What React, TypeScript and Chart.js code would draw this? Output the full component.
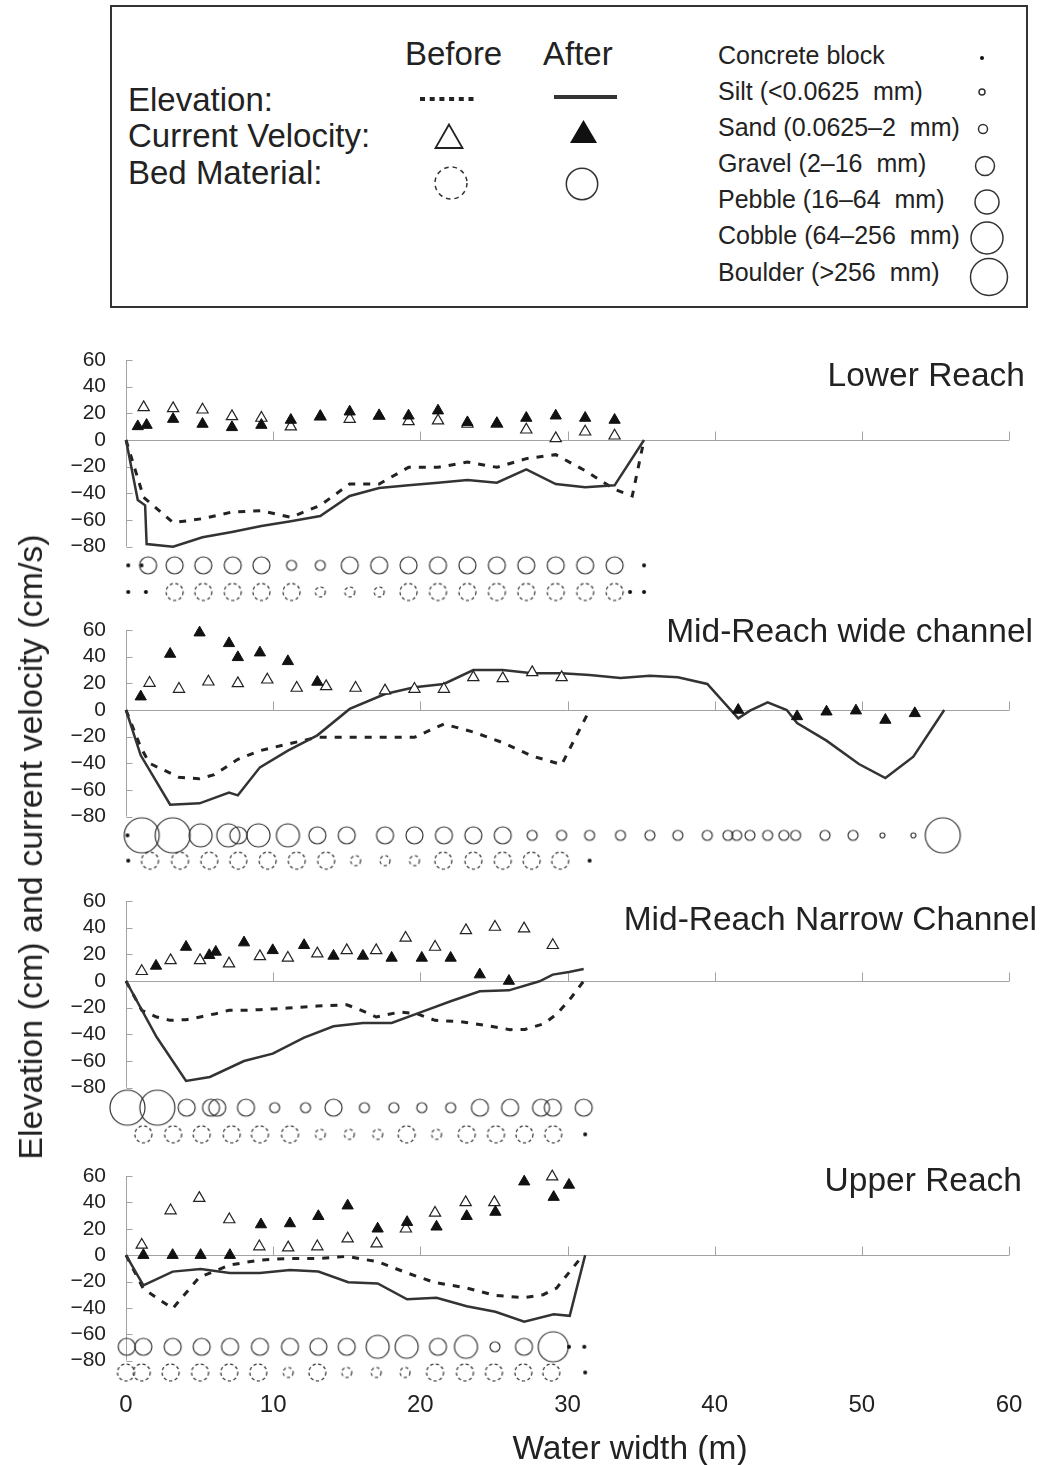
import React, { useEffect, useRef } from 'react';
import { Chart, registerables } from 'chart.js';

Chart.register(...registerables);

// ---------------- axes ----------------
const X_TICKS = [0, 10, 20, 30, 40, 50, 60];
const Y_TICKS = [-80, -60, -40, -20, 0, 20, 40, 60];

// ---------------- Lower Reach ----------------
const lowerVelBeforeX = [1.2, 3.2, 5.2, 7.2, 9.2, 11.2, 13.2, 15.2, 17.2, 19.2, 21.2, 23.2, 25.2, 27.2, 29.2, 31.2, 33.2];
const lowerVelBefore = [24.5, 23.7, 22.7, 17.7, 16.5, 10, 17.5, 15.7, 18, 14, 14.5, 12, 12, 7.7, 1.2, 6.2, 3.2];
const lowerVelAfterX = [0.8, 1.4, 3.2, 5.2, 7.2, 9.2, 11.2, 13.2, 15.2, 17.2, 19.2, 21.2, 23.2, 25.2, 27.2, 29.2, 31.2, 33.2];
const lowerVelAfter = [10.2, 11.2, 15.7, 12, 9.5, 11.2, 15, 17.7, 21.2, 18.2, 18.2, 22, 13.2, 12.5, 16.5, 18.2, 16.5, 15];
const lowerElevBeforeX = [0, 1.2, 3.2, 5.2, 7.2, 9.2, 11.2, 13.2, 15.2, 17.2, 19.2, 21.2, 23.2, 25.2, 27.2, 29.2, 31.2, 33.2, 34.4, 35.2];
const lowerElevBefore = [0, -43, -62, -59, -54, -53, -58, -49, -33, -33, -20.5, -20.5, -16.5, -20.5, -14, -11, -23, -37, -42, 0];
const lowerElevAfterX = [0, 0.8, 1.3, 1.4, 3.2, 5.2, 7.2, 9.2, 11.2, 13.2, 15.2, 17.2, 19.2, 21.2, 23.2, 25.2, 27.2, 29.2, 31.2, 33.2, 35.2];
const lowerElevAfter = [0, -45, -49, -78, -80, -73, -69, -64.5, -61, -57, -42, -36, -34, -32, -30, -32, -22, -33, -35.5, -34, 0];
const lowerBedAfterX = [0.15, 1.05, 1.5, 3.3, 5.25, 7.25, 9.2, 11.25, 13.2, 15.2, 17.2, 19.2, 21.2, 23.2, 25.2, 27.2, 29.2, 31.2, 33.2, 35.2];
const lowerBedAfter = ['K', 'K', 'G', 'G', 'G', 'G', 'G', 'S', 'S', 'G', 'G', 'G', 'G', 'G', 'G', 'G', 'G', 'G', 'G', 'K'];
const lowerBedBeforeX = [0.15, 1.35, 3.3, 5.25, 7.25, 9.2, 11.25, 13.2, 15.2, 17.2, 19.2, 21.2, 23.2, 25.2, 27.2, 29.2, 31.2, 33.2, 34.25, 35.2];
const lowerBedBefore = ['K', 'K', 'G', 'G', 'G', 'G', 'G', 'S', 'S', 'S', 'G', 'G', 'G', 'G', 'G', 'G', 'G', 'G', 'K', 'K'];

// ---------------- Mid-Reach wide channel ----------------
const wideVelBeforeX = [1.6, 3.6, 5.6, 7.6, 9.6, 11.6, 13.6, 15.6, 17.6, 19.6, 21.6, 23.6, 25.6, 27.6, 29.6];
const wideVelBefore = [20.2, 15.7, 21.2, 20, 22.7, 16.5, 17.7, 16.5, 14.5, 15.7, 15.7, 24.5, 23.7, 28.2, 24.5];
const wideVelAfterX = [1.0, 3.0, 5.0, 7.0, 7.6, 9.1, 11.0, 13.0, 41.6, 45.6, 47.6, 49.6, 51.6, 53.6];
const wideVelAfter = [10, 42, 58, 50, 39.5, 43, 36.5, 21, 0, -4.8, -1.3, -0.5, -7.5, -2.5];
const wideElevBeforeX = [0, 1.0, 1.6, 3.6, 5.0, 6.0, 7.6, 9.1, 11.0, 13.0, 15.6, 17.6, 19.6, 21.6, 23.6, 25.6, 27.6, 29.6, 31.5];
const wideElevBefore = [0, -28, -40, -50.5, -51.5, -48.5, -37, -30.5, -25.5, -20.5, -20.5, -20.5, -20.5, -10.5, -16.5, -24.5, -34.5, -41, 0];
const wideElevAfterX = [0, 1.0, 3.0, 5.0, 7.0, 7.6, 9.1, 11.0, 13.0, 15.2, 17.6, 19.6, 21.6, 23.6, 25.6, 27.6, 29.6, 31.5, 33.6, 35.6, 37.5, 39.5, 41.6, 42.4, 43.6, 44.9, 45.6, 47.6, 49.8, 51.6, 53.5, 55.6];
const wideElevAfter = [0, -34, -71, -70, -62, -64, -43, -30.5, -19, 0.8, 12, 17, 19.5, 30, 30, 27.5, 27.5, 26.2, 24, 25.7, 24.5, 19.5, -6.3, -0.5, 5.7, 0, -9.8, -23, -40.5, -51, -35, 0];
const wideBedAfterX = [0.1, 1.07, 3.17, 5.07, 6.95, 7.63, 9.0, 11.0, 13.0, 15.0, 17.6, 19.6, 21.6, 23.6, 25.6, 27.6, 29.6, 31.5, 33.6, 35.6, 37.5, 39.5, 40.9, 41.5, 42.4, 43.6, 44.7, 45.5, 47.5, 49.4, 51.4, 53.5, 55.5];
const wideBedAfter = ['K', 'B', 'B', 'P', 'P', 'G', 'P', 'P', 'G', 'G', 'G', 'G', 'G', 'G', 'G', 'S', 'S', 'S', 'S', 'S', 'S', 'S', 'S', 'S', 'S', 'S', 'S', 'S', 'S', 'S', 'L', 'L', 'B'];
const wideBedBeforeX = [0.15, 1.63, 3.67, 5.66, 7.63, 9.62, 11.6, 13.6, 15.6, 17.6, 19.6, 21.56, 23.6, 25.6, 27.56, 29.5, 31.5];
const wideBedBefore = ['K', 'G', 'G', 'G', 'G', 'G', 'G', 'G', 'S', 'S', 'S', 'G', 'G', 'G', 'G', 'G', 'K'];

// ---------------- Mid-Reach Narrow Channel ----------------
const narrowVelBeforeX = [1.07, 3.03, 5.03, 7.0, 9.1, 11.0, 13.0, 15.0, 17.0, 19.0, 21.0, 23.1, 25.07, 27.05, 29.0];
const narrowVelBefore = [7.3, 15.5, 15.5, 13, 18.5, 17.3, 20.5, 23, 23, 32.3, 25.5, 38, 40.5, 39.3, 26.8];
const narrowVelAfterX = [2.04, 4.08, 5.66, 6.1, 8.02, 9.97, 12.1, 14.1, 16.1, 18.05, 20.1, 22.06, 24.04, 26.02];
const narrowVelAfter = [11.3, 25.5, 19.3, 21.8, 28.8, 23, 26.8, 18.8, 18.8, 17.3, 17.3, 17.3, 4.8, 0];
const narrowElevBeforeX = [0, 1.07, 2.08, 3.0, 4.08, 5.03, 6.1, 7.0, 8.02, 9.1, 11.0, 13.0, 15.0, 16.0, 17.0, 18.6, 19.75, 21.0, 22.7, 24.5, 26.1, 27.1, 28.4, 29.3, 30.2, 31.1];
const narrowElevBefore = [0, -22, -27, -29.5, -29, -27, -24.5, -22, -22, -21.5, -20.3, -18.8, -17.8, -22, -27, -23.3, -24.5, -29.5, -30.5, -33.3, -36.5, -36.3, -32, -24.5, -13.2, 0];
const narrowElevAfterX = [0, 2.08, 4.08, 5.7, 8.02, 9.97, 12.1, 14.1, 16.1, 18.05, 20.1, 22.06, 24.04, 26.02, 28.1, 29.0, 30.1, 31.1];
const narrowElevAfter = [0, -42, -75, -72, -60, -54.5, -42.5, -34, -31.5, -31.5, -23.2, -15.2, -7.7, -7, -0.2, 4.8, 6.8, 9];
const narrowBedAfterX = [0.1, 2.13, 4.12, 5.78, 6.2, 8.15, 10.1, 12.2, 14.1, 16.2, 18.2, 20.1, 22.06, 24.05, 26.1, 28.2, 29.0, 31.1];
const narrowBedAfter = ['B', 'B', 'G', 'G', 'G', 'G', 'S', 'S', 'G', 'S', 'S', 'S', 'S', 'G', 'G', 'G', 'G', 'G'];
const narrowBedBeforeX = [1.18, 3.2, 5.14, 7.18, 9.1, 11.14, 13.2, 15.17, 17.1, 19.07, 21.1, 23.15, 25.14, 27.07, 29.03, 31.2];
const narrowBedBefore = ['G', 'G', 'G', 'G', 'G', 'G', 'S', 'S', 'S', 'G', 'S', 'G', 'G', 'G', 'G', 'K'];

// ---------------- Upper Reach ----------------
const upperVelBeforeX = [1.07, 3.03, 4.98, 7.02, 9.06, 11.02, 13.0, 15.06, 17.03, 19.02, 21.0, 23.08, 25.03, 28.96];
const upperVelBefore = [7.7, 33.8, 43.2, 27, 6.5, 5.7, 6.5, 12.5, 8.7, 20, 32, 40, 40, 59.5];
const upperVelAfterX = [1.18, 3.17, 5.07, 7.06, 9.17, 11.14, 13.07, 15.06, 17.1, 19.1, 21.1, 23.15, 25.1, 27.06, 29.06, 30.1];
const upperVelAfter = [0, 0, 0, 0, 23.2, 24, 29.5, 37.5, 20, 25, 21.5, 29.5, 32.7, 55.7, 44, 53.2];
const upperElevBeforeX = [0, 1.18, 3.17, 4.98, 7.06, 9.1, 11.14, 13.07, 15.0, 17.1, 19.1, 20.9, 23.15, 25.1, 27.06, 28.35, 29.26, 30.15, 31.06];
const upperElevBefore = [0, -25.5, -40.5, -16.8, -7.5, -3.7, -2.5, -2.5, -1, -5, -13.5, -20.5, -25, -30.5, -32.3, -30, -25, -12.5, 0];
const upperElevAfterX = [0, 1.18, 3.17, 5.07, 7.06, 9.1, 11.14, 13.07, 15.1, 17.1, 19.1, 21.1, 23.15, 25.1, 27.06, 29.06, 30.15, 31.2];
const upperElevAfter = [0, -23, -12.5, -10.5, -13.5, -13.5, -11.3, -12.5, -20.5, -21.5, -33.5, -32.3, -38.8, -43, -50.5, -44.8, -46, 0];
const upperBedAfterX = [0.05, 1.18, 3.17, 5.14, 7.07, 9.1, 11.14, 13.07, 15.0, 17.1, 19.07, 21.2, 23.1, 25.07, 27.04, 29.03, 30.1, 31.14];
const upperBedAfter = ['G', 'G', 'G', 'G', 'G', 'G', 'G', 'G', 'G', 'P', 'P', 'G', 'P', 'S', 'G', 'C', 'K', 'K'];
const upperBedBeforeX = [0.0, 1.07, 3.03, 5.03, 7.02, 8.99, 11.02, 13.0, 15.0, 17.0, 18.96, 21.0, 23.03, 25.0, 27.0, 28.9, 31.2];
const upperBedBefore = ['G', 'G', 'G', 'G', 'G', 'G', 'S', 'G', 'S', 'S', 'S', 'G', 'G', 'G', 'G', 'G', 'K'];

// ---------------- legend texts ----------------
const BED_CLASSES = ['Concrete block', 'Silt (<0.0625  mm)', 'Sand (0.0625–2  mm)', 'Gravel (2–16  mm)', 'Pebble (16–64  mm)', 'Cobble (64–256  mm)', 'Boulder (>256  mm)'];
const BED_CODES = ['K', 'L', 'S', 'G', 'P', 'C', 'B'];

// ---------------- styles ----------------
const FONT = '"Liberation Sans", Arial, sans-serif';
const AXIS_COLOR = '#a3a3a3';
const INK = '#222';
const BED_RADIUS: Record<string, number> = { K: 2, L: 2.5, S: 5, G: 8.5, P: 11.5, C: 15, B: 17.5 };
const LEGEND_RADIUS: Record<string, number> = { K: 2, L: 3, S: 4.5, G: 9.5, P: 12, C: 16, B: 18.5 };
const LEGEND_SYMBOL_POS = [
  [982, 58], [982, 92], [983, 129], [985, 166], [987, 202], [987, 238], [989, 277],
];
const LEGEND_TEXT_BASELINE = [64, 100, 136, 172, 208, 244, 281];

// areaTop/areaHeight: chart area inside each canvas (y from 60 down to yMin)
const PANEL_LAYOUT = [
  { top: 350, height: 255, areaTop: 10, areaHeight: 240, yMin: -120, afterRow: -94, beforeRow: -114, showX: false },
  { top: 620, height: 255, areaTop: 10, areaHeight: 240, yMin: -120, afterRow: -94, beforeRow: -113, showX: false },
  { top: 891, height: 255, areaTop: 10, areaHeight: 240, yMin: -120, afterRow: -95, beforeRow: -115, showX: false },
  { top: 1166, height: 299, areaTop: 10, areaHeight: 211, yMin: -100, afterRow: -69.5, beforeRow: -89, showX: true },
];

const PANEL_TITLES = [
  { text: 'Lower Reach', right: 1025, baseline: 386 },
  { text: 'Mid-Reach wide channel', right: 1033, baseline: 642 },
  { text: 'Mid-Reach Narrow Channel', right: 1037, baseline: 930 },
  { text: 'Upper Reach', right: 1022, baseline: 1191 },
];

type Panel = {
  velBeforeX: number[]; velBefore: number[]; velAfterX: number[]; velAfter: number[];
  elevBeforeX: number[]; elevBefore: number[]; elevAfterX: number[]; elevAfter: number[];
  bedAfterX: number[]; bedAfter: string[]; bedBeforeX: number[]; bedBefore: string[];
};

const PANELS: Panel[] = [
  { velBeforeX: lowerVelBeforeX, velBefore: lowerVelBefore, velAfterX: lowerVelAfterX, velAfter: lowerVelAfter,
    elevBeforeX: lowerElevBeforeX, elevBefore: lowerElevBefore, elevAfterX: lowerElevAfterX, elevAfter: lowerElevAfter,
    bedAfterX: lowerBedAfterX, bedAfter: lowerBedAfter, bedBeforeX: lowerBedBeforeX, bedBefore: lowerBedBefore },
  { velBeforeX: wideVelBeforeX, velBefore: wideVelBefore, velAfterX: wideVelAfterX, velAfter: wideVelAfter,
    elevBeforeX: wideElevBeforeX, elevBefore: wideElevBefore, elevAfterX: wideElevAfterX, elevAfter: wideElevAfter,
    bedAfterX: wideBedAfterX, bedAfter: wideBedAfter, bedBeforeX: wideBedBeforeX, bedBefore: wideBedBefore },
  { velBeforeX: narrowVelBeforeX, velBefore: narrowVelBefore, velAfterX: narrowVelAfterX, velAfter: narrowVelAfter,
    elevBeforeX: narrowElevBeforeX, elevBefore: narrowElevBefore, elevAfterX: narrowElevAfterX, elevAfter: narrowElevAfter,
    bedAfterX: narrowBedAfterX, bedAfter: narrowBedAfter, bedBeforeX: narrowBedBeforeX, bedBefore: narrowBedBefore },
  { velBeforeX: upperVelBeforeX, velBefore: upperVelBefore, velAfterX: upperVelAfterX, velAfter: upperVelAfter,
    elevBeforeX: upperElevBeforeX, elevBefore: upperElevBefore, elevAfterX: upperElevAfterX, elevAfter: upperElevAfter,
    bedAfterX: upperBedAfterX, bedAfter: upperBedAfter, bedBeforeX: upperBedBeforeX, bedBefore: upperBedBefore },
];

// ---------------- helpers ----------------
const symbolCache = new Map<string, HTMLCanvasElement>();
function bedSymbol(kind: string, dashed: boolean): HTMLCanvasElement {
  const key = kind + (dashed ? 'd' : 's');
  const hit = symbolCache.get(key);
  if (hit) return hit;
  const r = BED_RADIUS[kind];
  const size = Math.ceil(r * 2 + 4);
  const c = document.createElement('canvas');
  c.width = size;
  c.height = size;
  const g = c.getContext('2d')!;
  g.translate(size / 2, size / 2);
  g.beginPath();
  g.arc(0, 0, r, 0, Math.PI * 2);
  if (kind === 'K') {
    g.fillStyle = '#111';
    g.fill();
  } else {
    g.strokeStyle = '#333';
    g.lineWidth = 1.2;
    if (dashed) g.setLineDash([3.2, 2.6]);
    g.stroke();
  }
  symbolCache.set(key, c);
  return c;
}

const pts = (xs: number[], ys: number[]) => xs.map((x, i) => ({ x, y: ys[i] }));
const row = (xs: number[], level: number) => xs.map((x) => ({ x, y: level }));

const axisDecor = {
  id: 'axisDecor',
  beforeDatasetsDraw(chart: any) {
    const { ctx, chartArea, scales } = chart;
    const xs = scales.x;
    const ys = scales.y;
    const left = Math.round(xs.getPixelForValue(0)) + 0.5;
    const yTop = ys.getPixelForValue(Y_TICKS[Y_TICKS.length - 1]);
    const yBot = ys.getPixelForValue(Y_TICKS[0]);
    const y0 = Math.round(ys.getPixelForValue(0)) + 0.5;
    ctx.save();
    ctx.strokeStyle = AXIS_COLOR;
    ctx.lineWidth = 1;
    ctx.beginPath();
    ctx.moveTo(left, yTop);
    ctx.lineTo(left, yBot);
    for (const v of Y_TICKS) {
      const py = Math.round(ys.getPixelForValue(v)) + 0.5;
      ctx.moveTo(left, py);
      ctx.lineTo(left + 6, py);
    }
    ctx.moveTo(left, y0);
    ctx.lineTo(chartArea.right, y0);
    for (const v of X_TICKS) {
      if (v === 0) continue;
      const px = Math.round(xs.getPixelForValue(v)) + 0.5;
      ctx.moveTo(px, y0);
      ctx.lineTo(px, y0 - 9);
    }
    ctx.stroke();
    ctx.restore();
  },
};

function buildConfig(p: Panel, L: typeof PANEL_LAYOUT[number]): any {
  const bottomSpace = L.height - L.areaTop - L.areaHeight;
  return {
    type: 'scatter',
    data: {
      datasets: [
        {
          label: 'Current velocity (after)', data: pts(p.velAfterX, p.velAfter), showLine: false,
          pointStyle: 'triangle', pointRadius: 6.5, pointBackgroundColor: '#111', pointBorderColor: '#111',
          pointBorderWidth: 1, order: 0, clip: false,
        },
        {
          label: 'Current velocity (before)', data: pts(p.velBeforeX, p.velBefore), showLine: false,
          pointStyle: 'triangle', pointRadius: 6.5, pointBackgroundColor: '#fff', pointBorderColor: '#222',
          pointBorderWidth: 1.2, order: 1, clip: false,
        },
        {
          label: 'Elevation (after)', data: pts(p.elevAfterX, p.elevAfter), showLine: true,
          borderColor: '#333', borderWidth: 2.5, pointRadius: 0, order: 2, clip: false,
        },
        {
          label: 'Elevation (before)', data: pts(p.elevBeforeX, p.elevBefore), showLine: true,
          borderColor: '#222', borderWidth: 3, borderDash: [7, 8], pointRadius: 0, order: 3, clip: false,
        },
        {
          label: 'Bed material (after)', data: row(p.bedAfterX, L.afterRow), showLine: false,
          pointStyle: p.bedAfter.map((k) => bedSymbol(k, false)), pointRadius: p.bedAfter.map((k) => BED_RADIUS[k]),
          order: 4, clip: false,
        },
        {
          label: 'Bed material (before)', data: row(p.bedBeforeX, L.beforeRow), showLine: false,
          pointStyle: p.bedBefore.map((k) => bedSymbol(k, true)), pointRadius: p.bedBefore.map((k) => BED_RADIUS[k]),
          order: 5, clip: false,
        },
      ],
    },
    options: {
      responsive: false,
      maintainAspectRatio: false,
      animation: false,
      events: [],
      layout: {
        autoPadding: false,
        padding: { left: 0, right: 31, top: L.areaTop, bottom: L.showX ? 0 : bottomSpace },
      },
      plugins: { legend: { display: false }, tooltip: { enabled: false }, title: { display: false } },
      scales: {
        x: {
          type: 'linear', min: 0, max: 60, display: L.showX,
          afterBuildTicks: (s: any) => { s.ticks = X_TICKS.map((v) => ({ value: v })); },
          afterFit: (s: any) => {
            if (L.showX) s.height = bottomSpace;
            s.paddingLeft = 0; s.paddingRight = 0; s.paddingTop = 0; s.paddingBottom = 0;
          },
          grid: { display: false, drawTicks: false, tickLength: 0 }, border: { display: false },
          ticks: { font: { family: FONT, size: 24 }, color: INK, padding: 4, maxRotation: 0 },
        },
        y: {
          type: 'linear', min: L.yMin, max: 60,
          afterBuildTicks: (s: any) => { s.ticks = Y_TICKS.map((v) => ({ value: v })); },
          afterFit: (s: any) => { s.width = 126; s.paddingTop = 0; s.paddingBottom = 0; s.paddingLeft = 0; s.paddingRight = 0; },
          grid: { display: false, drawTicks: false, tickLength: 0 }, border: { display: false },
          ticks: {
            font: { family: FONT, size: 21 }, color: INK, padding: 20,
            callback: (v: number) => (v < 0 ? '\u2212' + Math.abs(v) : String(v)),
          },
        },
      },
    },
    plugins: [axisDecor],
  };
}

function PanelChart({ index }: { index: number }) {
  const ref = useRef<HTMLCanvasElement>(null);
  const L = PANEL_LAYOUT[index];
  useEffect(() => {
    const chart = new Chart(ref.current as HTMLCanvasElement, buildConfig(PANELS[index], L));
    return () => chart.destroy();
  }, [index]);
  return (
    <canvas
      ref={ref}
      width={1040}
      height={L.height}
      style={{ position: 'absolute', left: 0, top: L.top, width: 1040, height: L.height }}
    />
  );
}

function Txt({ x, baseline, size, children, align = 'left' }: any) {
  const style: any = {
    position: 'absolute',
    top: baseline - 0.8465 * size,
    font: `${size}px ${FONT}`,
    lineHeight: 1,
    whiteSpace: 'pre',
    color: INK,
  };
  if (align === 'left') style.left = x;
  else if (align === 'right') style.right = 1040 - x;
  else { style.left = x; style.transform = 'translateX(-50%)'; }
  return <div style={style}>{children}</div>;
}

export default function App() {
  return (
    <div style={{ position: 'absolute', left: 0, top: 0, width: 1040, height: 1465, background: '#fff', overflow: 'hidden' }}>
      {/* legend box */}
      <div style={{ position: 'absolute', left: 110, top: 5, width: 918, height: 303, border: '2px solid #333', boxSizing: 'border-box' }} />
      <svg width={1040} height={320} style={{ position: 'absolute', left: 0, top: 0 }}>
        <line x1={420} y1={99} x2={478} y2={99} stroke="#222" strokeWidth={4} strokeDasharray="5 4.7" />
        <line x1={554} y1={97} x2={617} y2={97} stroke="#333" strokeWidth={4} />
        <polygon points="449,124.5 435.5,148 462.5,148" fill="#fff" stroke="#222" strokeWidth={1.8} />
        <polygon points="583.5,120 570,143 597,143" fill="#111" />
        <circle cx={451} cy={183} r={16} fill="none" stroke="#333" strokeWidth={1.5} strokeDasharray="4.5 4" />
        <circle cx={582} cy={184} r={15.7} fill="none" stroke="#333" strokeWidth={1.5} />
        {BED_CODES.map((k, i) =>
          k === 'K' ? (
            <circle key={k} cx={LEGEND_SYMBOL_POS[i][0]} cy={LEGEND_SYMBOL_POS[i][1]} r={LEGEND_RADIUS[k]} fill="#111" />
          ) : (
            <circle key={k} cx={LEGEND_SYMBOL_POS[i][0]} cy={LEGEND_SYMBOL_POS[i][1]} r={LEGEND_RADIUS[k]} fill="none" stroke="#333" strokeWidth={1.5} />
          )
        )}
      </svg>
      <Txt x={405} baseline={65} size={33}>Before</Txt>
      <Txt x={543} baseline={65} size={33}>After</Txt>
      <Txt x={128} baseline={111} size={33}>Elevation:</Txt>
      <Txt x={128} baseline={147} size={33}>Current Velocity:</Txt>
      <Txt x={128} baseline={184} size={33}>Bed Material:</Txt>
      {BED_CLASSES.map((t, i) => (
        <Txt key={t} x={718} baseline={LEGEND_TEXT_BASELINE[i]} size={25}>{t}</Txt>
      ))}

      {/* panels */}
      {PANELS.map((_, i) => <PanelChart key={i} index={i} />)}
      {PANEL_TITLES.map((t) => (
        <Txt key={t.text} x={t.right} baseline={t.baseline} size={33.5} align="right">{t.text}</Txt>
      ))}

      {/* axis titles */}
      <Txt x={630} baseline={1459} size={33.5} align="center">Water width (m)</Txt>
      <div
        style={{
          position: 'absolute', left: 30, top: 847, transform: 'translate(-50%, -50%) rotate(-90deg)',
          font: `34px ${FONT}`, lineHeight: 1, whiteSpace: 'nowrap', color: INK,
        }}
      >
        Elevation (cm) and current velocity (cm/s)
      </div>
    </div>
  );
}
